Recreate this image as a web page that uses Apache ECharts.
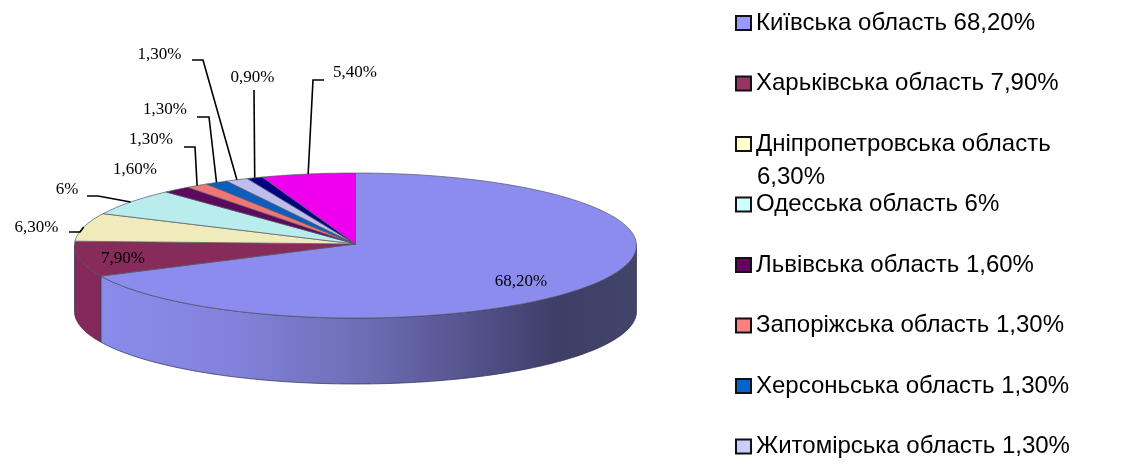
<!DOCTYPE html>
<html><head><meta charset="utf-8">
<style>html,body{margin:0;padding:0;background:#fff}#c{width:1143px;height:466px}</style>
<script src="https://cdn.jsdelivr.net/npm/echarts@6/dist/echarts.min.js"></script>
</head><body><div id="c"></div>
<script>
const regions = ['Київська область','Харьківська область','Дніпропетровська область','Одесська область','Львівська область','Запоріжська область','Херсоньська область','Житомірська область'];
const values = [68.2,7.9,6.3,6,1.6,1.3,1.3,1.3,0.9,5.4];
const valueLabels = ['68,20%','7,90%','6,30%','6%','1,60%','1,30%','1,30%','1,30%','0,90%','5,40%'];
const sliceColors = ['#8C8CEF','#862B5A','#EFEBBA','#B9EDED','#5C0A5C','#EE7676','#0C5EBD','#BDBDEE','#000080','#EE00EE'];
const wallColors = ['#8C8CEF','#84295A'];
const legendColors = ['#9999FF','#993366','#FFFFCC','#CCFFFF','#660066','#FF8080','#0066CC','#CCCCFF'];
// layout of the labels: text centre, and leader elbow start/knee (null = no leader)
const labelLayout = [
  {x:521,y:282},{x:123,y:259},
  {x:36.5,y:228,from:[69,232],knee:[80,232]},
  {x:67,y:190,from:[87,196],knee:[98,196]},
  {x:135,y:170},
  {x:151,y:140,from:[184,147],knee:[195,147]},
  {x:165,y:110,from:[197,117],knee:[209,117]},
  {x:159.5,y:55,from:[192,60],knee:[203,60]},
  {x:252.5,y:78,from:[254,90]},
  {x:355,y:73,from:[324,80],knee:[313,80]}
];
const CX=355.5, CY=245.5, RX=281, RY=72.5, H=66;
const total = values.reduce((a,b)=>a+b,0);
const pt=(t,dy=0)=>[CX+RX*Math.sin(t),CY-RY*Math.cos(t)+dy];
const rad=d=>d*Math.PI/180;
function arc(a,b,dy=0){const n=Math.max(2,Math.ceil((b-a)/1));const r=[];for(let i=0;i<=n;i++)r.push(pt(rad(a+(b-a)*i/n),dy));return r;}
const serieses = values.map((v,idx)=>{
  const start = values.slice(0,idx).reduce((a,b)=>a+b,0)/total*360;
  const end = start+v/total*360;
  const name = idx<regions.length ? regions[idx]+' '+valueLabels[idx] : valueLabels[idx];
  return {
    type:'custom', name, coordinateSystem:'none', silent:true, animation:false,
    itemStyle:{color:sliceColors[idx]},
    z: 2,
    data:[[v]],
    renderItem(){
      const ch=[];
      const wa=Math.max(start,90), wb=Math.min(end,270);
      if(wb>wa){
        const topArc=arc(wa,wb), botArc=arc(wa,wb,H).reverse();
        const fill = idx===0 ? new echarts.graphic.LinearGradient(0,0,1,0,[
          {offset:0,color:'#8B8BEC'},{offset:0.25,color:'#8282DC'},{offset:0.5,color:'#6C6CB4'},
          {offset:0.72,color:'#4F4F86'},{offset:0.85,color:'#3E3E68'},{offset:1,color:'#424468'}]) : wallColors[idx];
        ch.push({type:'polygon',shape:{points:topArc.concat(botArc)},style:{fill,stroke:'#2c2c50',lineWidth:0.7}});
      }
      ch.push({type:'polygon',shape:{points:[[CX,CY-1.5]].concat(arc(start,end))},
        style:{fill:sliceColors[idx],stroke:'#555566',lineWidth:0.7}});
      const L=labelLayout[idx];
      ch.push({type:'text',z2:20,x:L.x,y:L.y,style:{text:valueLabels[idx],fill:'#000',align:'center',verticalAlign:'middle',font:'17px "Liberation Serif"'}});
      if(L.from){
        const e=pt(rad((start+end)/2));
        const pts=L.knee?[L.from,L.knee,e]:[L.from,e];
        ch.push({type:'polyline',z2:19,shape:{points:pts},style:{fill:null,stroke:'#000',lineWidth:1.6}});
      }
      return {type:'group',children:ch};
    }
  };
});
const chart = echarts.init(document.getElementById('c'),null,{renderer:'canvas'});
chart.setOption({
  animation:false,
  backgroundColor:'#fff',
  legend:{
    orient:'vertical',left:735,top:11,itemWidth:15,itemHeight:14,itemGap:36.5,padding:0,icon:'rect',
    selectedMode:false,
    data:regions.map((r,i)=>({name:r+' '+valueLabels[i],icon:'rect',
      itemStyle:{color:legendColors[i],borderColor:'#111',borderWidth:2}})),
    textStyle:{fontFamily:'Liberation Sans',fontSize:24,lineHeight:24,color:'#000'},
    formatter:n=>n.startsWith(regions[2])?regions[2]:n
  },
  graphic:[{type:'text',x:757,y:165,silent:true,style:{text:valueLabels[2],font:'24px "Liberation Sans"',fill:'#000'}}],
  series:serieses
});
</script></body></html>
